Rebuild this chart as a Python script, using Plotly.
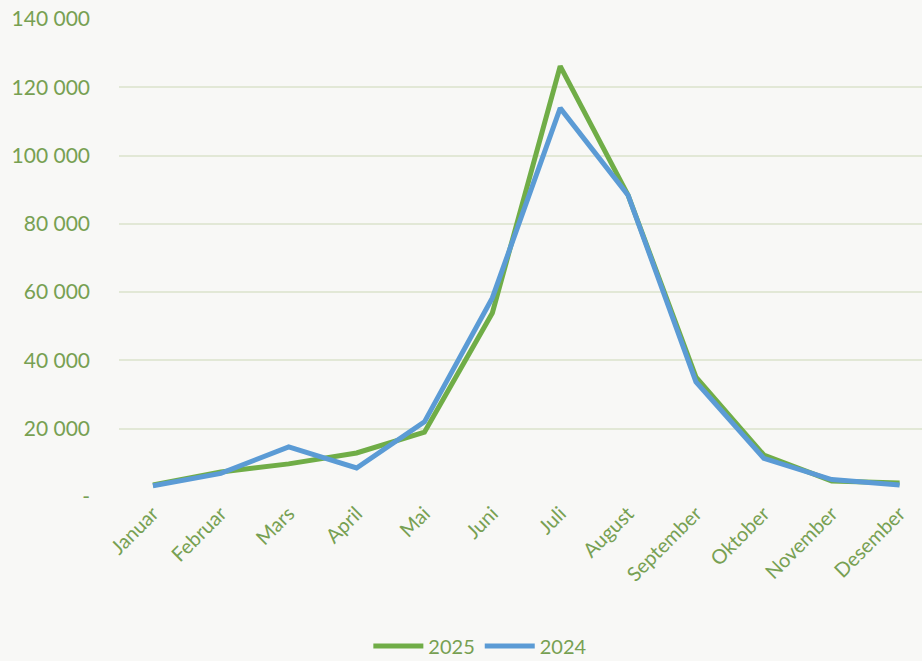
import plotly.graph_objects as go

months = ["Januar", "Februar", "Mars", "April", "Mai", "Juni", "Juli", "August",
          "September", "Oktober", "November", "Desember"]
series_2025 = [3500, 7300, 9700, 12900, 19000, 53900, 126200, 88400, 35100, 12300, 4700, 4100]
series_2024 = [3300, 6900, 14700, 8500, 22000, 58300, 113900, 88400, 33700, 11300, 5100, 3500]
y_tickvals = [0, 20000, 40000, 60000, 80000, 100000, 120000, 140000]
y_ticktext = ["-", "20 000", "40 000", "60 000", "80 000", "100 000", "120 000", "140 000"]

font_fam = "Lato, 'Open Sans', sans-serif"
tick_color = "#77a052"
bg = "#f8f8f6"

fig = go.Figure()
fig.add_trace(go.Scatter(x=months, y=series_2025, mode="lines", name="2025",
                         line=dict(color="#70ad47", width=5)))
fig.add_trace(go.Scatter(x=months, y=series_2024, mode="lines", name="2024",
                         line=dict(color="#5b9bd5", width=5)))

fig.update_layout(
    width=922, height=661,
    margin=dict(l=119, r=0, t=19, b=164, autoexpand=False),
    paper_bgcolor=bg, plot_bgcolor=bg,
    font=dict(family=font_fam, color=tick_color),
    showlegend=True,
    legend=dict(orientation="h", x=0.45, xanchor="center",
                y=-0.271, yanchor="top",
                font=dict(size=20, color=tick_color), itemwidth=50),
    xaxis=dict(range=[-0.5, 11.33], showgrid=False, zeroline=False, showline=False,
               automargin=False,
               tickangle=-45, tickfont=dict(size=20, color=tick_color), ticks=""),
    yaxis=dict(range=[0, 140000], tickvals=y_tickvals, ticktext=y_ticktext,
               automargin=False,
               gridcolor="#e2e8d6", gridwidth=1.5, zeroline=False, showline=False,
               tickfont=dict(size=21, color=tick_color), ticklabelstandoff=28),
)

fig.write_html("out.html", config={"displayModeBar": False},
               post_script="document.body.style.margin='0';document.body.style.background='%s';" % bg)
